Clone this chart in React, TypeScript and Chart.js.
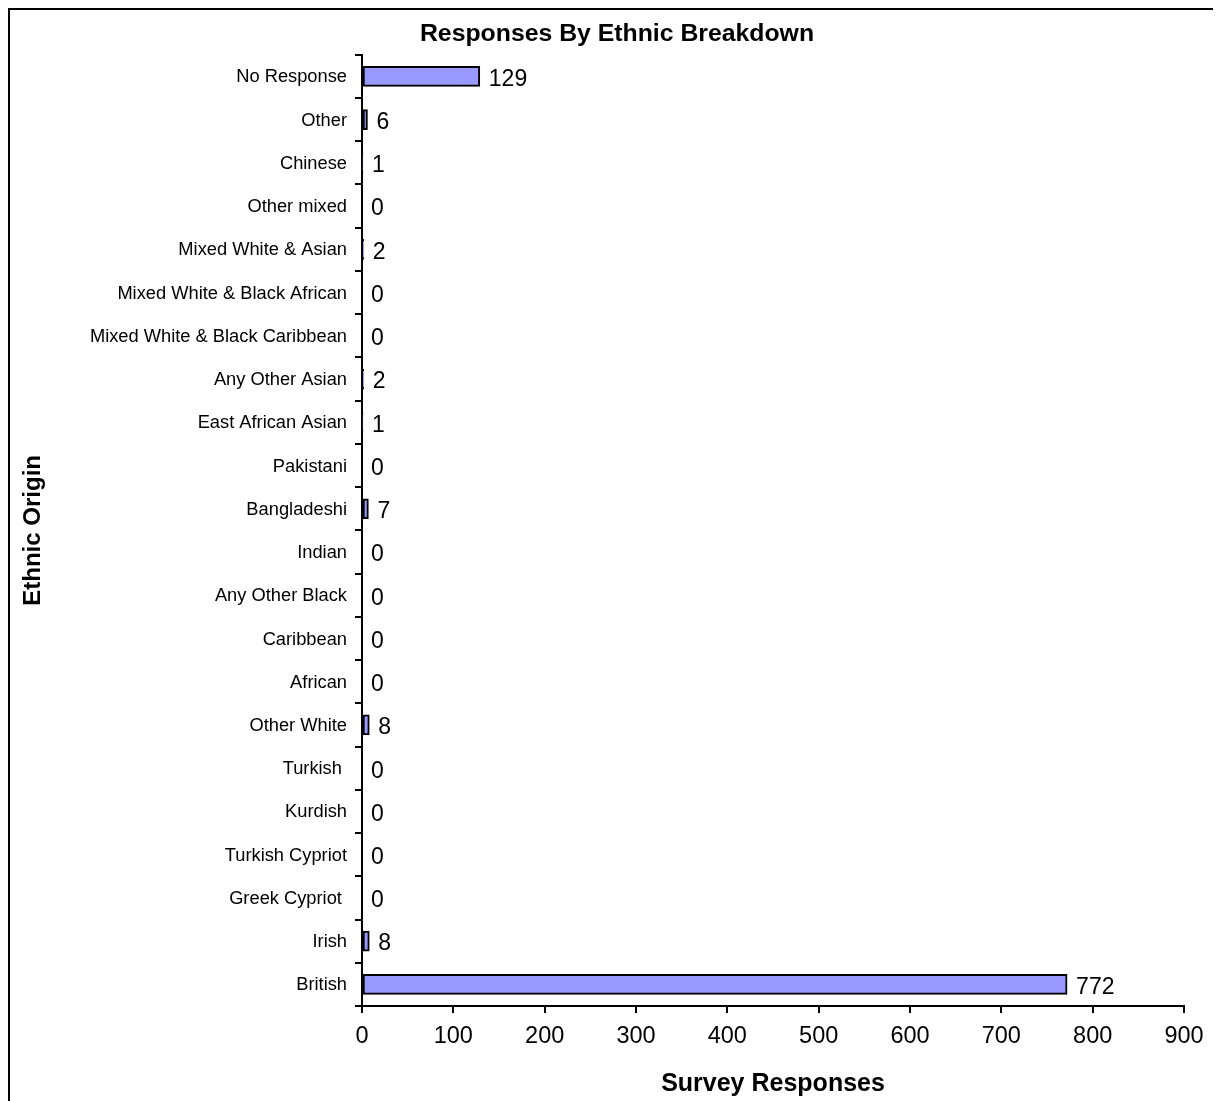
import { useEffect, useRef } from "react";
import { Chart, registerables } from "chart.js";

Chart.register(...registerables);

const FONT = "Arial, 'Liberation Sans', Helvetica, sans-serif";

// Ethnic origin categories, listed top to bottom
const categories = [
  "No Response",
  "Other",
  "Chinese",
  "Other mixed",
  "Mixed White & Asian",
  "Mixed White & Black African",
  "Mixed White & Black Caribbean",
  "Any Other Asian",
  "East African Asian",
  "Pakistani",
  "Bangladeshi",
  "Indian",
  "Any Other Black",
  "Caribbean",
  "African",
  "Other White",
  "Turkish ",
  "Kurdish",
  "Turkish Cypriot",
  "Greek Cypriot ",
  "Irish",
  "British",
];

// Number of survey responses per category
const responses = [129, 6, 1, 0, 2, 0, 0, 2, 1, 0, 7, 0, 0, 0, 0, 8, 0, 0, 0, 0, 8, 772];

// Horizontal axis tick values
const xTicks = [0, 100, 200, 300, 400, 500, 600, 700, 800, 900];

const CANVAS_W = 1213;
const CANVAS_H = 1093;

const valueLabels = {
  id: "valueLabels",
  afterDatasetsDraw(chart: any) {
    const ctx = chart.ctx;
    const meta = chart.getDatasetMeta(0);
    ctx.save();
    ctx.font = `23px ${FONT}`;
    ctx.fillStyle = "#000";
    ctx.textAlign = "left";
    ctx.textBaseline = "middle";
    meta.data.forEach((bar: any, i: number) => {
      ctx.fillText(String(responses[i]), bar.x + 9, bar.y + 3);
    });
    ctx.restore();
  },
};

const frame = {
  id: "frame",
  afterDraw(chart: any) {
    const ctx = chart.ctx;
    ctx.save();
    ctx.fillStyle = "#000";
    ctx.fillRect(0, 0, chart.width, 2);
    ctx.fillRect(0, 0, 2, chart.height);
    ctx.restore();
  },
};

export default function App() {
  const canvasRef = useRef<HTMLCanvasElement | null>(null);

  useEffect(() => {
    if (!canvasRef.current) return;
    const chart = new Chart(canvasRef.current, {
      type: "bar",
      data: {
        labels: categories,
        datasets: [
          {
            data: responses,
            backgroundColor: "#9999FF",
            borderColor: "#000",
            borderWidth: 2,
            borderSkipped: false,
            barThickness: 20,
          },
        ],
      },
      plugins: [valueLabels, frame],
      options: {
        indexAxis: "y",
        responsive: false,
        animation: false,
        layout: { padding: { left: 13, right: 8, top: 0, bottom: 0 } },
        plugins: {
          legend: { display: false },
          tooltip: { enabled: false },
          title: {
            display: true,
            text: "Responses By Ethnic Breakdown",
            color: "#000",
            font: { family: FONT, size: 24.8, weight: "bold", lineHeight: 1.2 },
            padding: { top: 11, bottom: 6 },
          },
        },
        scales: {
          x: {
            type: "linear",
            min: 0,
            max: 900,
            afterBuildTicks: (scale: any) => {
              scale.ticks = xTicks.map((v) => ({ value: v }));
            },
            afterFit: (scale: any) => {
              scale.height = 95;
              scale.paddingRight = 37;
            },
            ticks: {
              color: "#000",
              font: { family: FONT, size: 23.5 },
              padding: 9,
              maxRotation: 0,
            },
            grid: {
              drawOnChartArea: false,
              drawTicks: true,
              tickLength: 7,
              color: "#000",
              lineWidth: 2,
            },
            border: { display: true, color: "#000", width: 2 },
            title: {
              display: true,
              text: "Survey Responses",
              color: "#000",
              font: { family: FONT, size: 25, weight: "bold", lineHeight: 1 },
              padding: { top: 0, bottom: 4 },
            },
          },
          y: {
            type: "category",
            offset: true,
            afterFit: (scale: any) => {
              scale.width = 341;
            },
            ticks: {
              color: "#000",
              font: { family: FONT, size: 18.3 },
              padding: 8,
              labelOffset: 1,
              autoSkip: false,
            },
            grid: {
              offset: true,
              drawOnChartArea: false,
              drawTicks: true,
              tickLength: 7,
              color: "#000",
              lineWidth: 2,
            },
            border: { display: true, color: "#000", width: 2 },
            title: {
              display: true,
              text: "Ethnic Origin",
              color: "#000",
              font: { family: FONT, size: 24, weight: "bold", lineHeight: 1 },
              padding: { top: 0, bottom: 0 },
            },
          },
        },
      } as any,
    });
    return () => chart.destroy();
  }, []);

  return (
    <div style={{ width: CANVAS_W, height: CANVAS_H }}>
      <canvas ref={canvasRef} width={CANVAS_W} height={CANVAS_H} style={{ display: "block" }} />
    </div>
  );
}
